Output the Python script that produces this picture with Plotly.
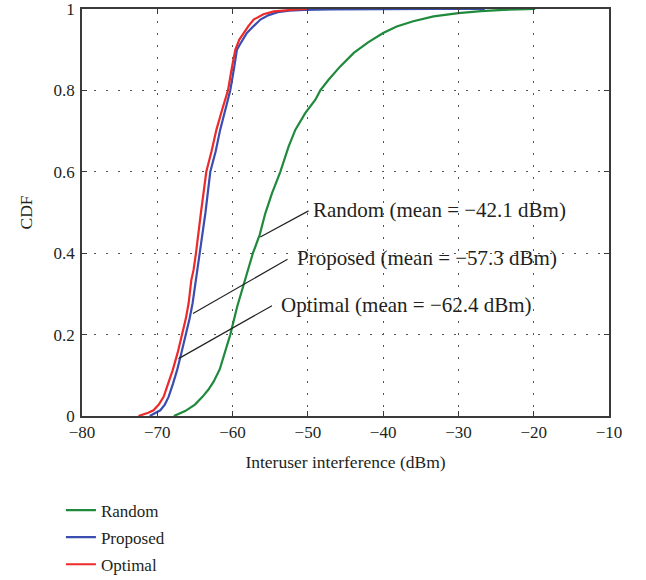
import plotly.graph_objects as go

# ---- data ----
random_x = [-67.8, -66.3, -65.0, -64.0, -63.2, -62.5, -61.7, -61.0, -60.3, -59.4, -58.45, -57.3, -56.4,
            -55.65, -54.77, -53.66, -52.56, -51.67, -50.35, -49.0, -48.35, -47.25, -45.7, -43.9, -42.0,
            -40.0, -38.2, -36.0, -33.3, -30.0, -27.0, -24.0, -19.8]
random_y = [0, 0.012, 0.028, 0.047, 0.065, 0.085, 0.115, 0.155, 0.2, 0.268, 0.326, 0.4, 0.445,
            0.498, 0.547, 0.6, 0.662, 0.703, 0.744, 0.777, 0.8, 0.826, 0.859, 0.892, 0.918,
            0.941, 0.957, 0.97, 0.982, 0.99, 0.995, 0.998, 1.0]

proposed_x = [-71.0, -70.7, -70.2, -69.6, -69.0, -68.5, -67.9, -67.38, -66.8, -66.19, -65.7, -65.31,
              -64.86, -64.65, -64.33, -63.6, -62.96, -62.25, -61.65, -60.95, -60.31, -59.8, -59.42,
              -58.8, -58.1, -57.2, -56.3, -55.2, -54.0, -52.5, -50.5, -47.0, -40.0, -33.0, -26.5]
proposed_y = [0, 0.003, 0.008, 0.014, 0.028, 0.047, 0.08, 0.112, 0.155, 0.2, 0.24, 0.277,
              0.334, 0.359, 0.4, 0.5, 0.6, 0.65, 0.703, 0.755, 0.8, 0.855, 0.9,
              0.92, 0.941, 0.958, 0.974, 0.985, 0.992, 0.996, 0.998, 0.999, 1.0, 1.0, 1.0]

optimal_x = [-72.5, -72.0, -71.2, -70.5, -69.8, -69.16, -68.5, -67.96, -67.3, -66.72, -66.2, -65.84,
             -65.48, -65.18, -64.86, -64.2, -63.49, -62.8, -62.15, -61.35, -60.61, -60.1, -59.64,
             -59.1, -58.54, -57.9, -57.2, -55.9, -54.5, -53.0, -51.5, -50.0]
optimal_y = [0, 0.003, 0.008, 0.014, 0.028, 0.047, 0.08, 0.112, 0.155, 0.2, 0.24, 0.277,
             0.334, 0.359, 0.4, 0.5, 0.6, 0.65, 0.703, 0.755, 0.8, 0.855, 0.90,
             0.925, 0.941, 0.958, 0.974, 0.987, 0.994, 0.997, 0.999, 1.0]

series_names = ["Random", "Proposed", "Optimal"]
series_colors = ["#1f8a3b", "#3b4db0", "#ec2a2a"]

x_ticks = [-80, -70, -60, -50, -40, -30, -20, -10]
y_ticks = [0, 0.2, 0.4, 0.6, 0.8, 1]
y_ticklabels = ["0", "0.2", "0.4", "0.6", "0.8", "1"]

# annotation labels: (curve point, label point, text)
label_texts = ["Random (mean = \u221242.1 dBm)",
               "Proposed (mean = \u221257.3 dBm)",
               "Optimal (mean = \u221262.4 dBm)"]
label_curve_pts = [(-56.32, 0.440), (-65.26, 0.252), (-67.17, 0.141)]
label_line_end = [(-49.91, 0.504), (-52.70, 0.385), (-54.77, 0.271)]
label_text_pos = [(-49.6, 0.505), (-51.75, 0.389), (-53.9, 0.273)]

FONT = "Liberation Serif"
TXT = "#231f20"

fig = go.Figure()
for name, xs, ys, col in zip(series_names, [random_x, proposed_x, optimal_x],
                             [random_y, proposed_y, optimal_y], series_colors):
    fig.add_trace(go.Scatter(x=xs, y=ys, mode="lines", name=name, legendgroup=name,
                             line=dict(color=col, width=2.2)))

for (cx, cy), (ex, ey), (tx, ty), txt in zip(label_curve_pts, label_line_end, label_text_pos, label_texts):
    fig.add_shape(type="line", x0=cx, y0=cy, x1=ex, y1=ey, xref="x", yref="y",
                  line=dict(color="#222222", width=1.2))
    fig.add_annotation(x=tx, y=ty, xref="x", yref="y", text=txt, showarrow=False,
                       xanchor="left", yanchor="middle",
                       font=dict(family=FONT, size=21, color=TXT))

axis_common = dict(showline=True, linecolor="#3a3a3a", linewidth=1.5, mirror="ticks",
                   ticks="inside", ticklen=5, tickcolor="#3a3a3a", tickwidth=1,
                   showgrid=True, gridcolor="#555555", gridwidth=1, griddash="2px,10px",
                   zeroline=False, ticklabeloverflow="allow",
                   tickfont=dict(family=FONT, size=17, color=TXT))

fig.update_xaxes(range=[-80, -10], tickvals=x_ticks,
                 title=dict(text="Interuser interference (dBm)", font=dict(family=FONT, size=17.5, color=TXT),
                            standoff=15),
                 **axis_common)
fig.update_yaxes(range=[0, 1], tickvals=y_ticks, ticktext=y_ticklabels, ticklabelstandoff=2,
                 title=dict(text="CDF", font=dict(family=FONT, size=17.5, color=TXT), standoff=16),
                 **axis_common)

fig.update_layout(
    width=646, height=580,
    margin=dict(l=82, r=37, t=9, b=164, autoexpand=False),
    paper_bgcolor="white", plot_bgcolor="white",
    font=dict(family=FONT, size=17, color=TXT),
    showlegend=True,
    legend=dict(x=-0.04, y=-0.188, xanchor="left", yanchor="top", orientation="v",
                tracegroupgap=2, font=dict(family=FONT, size=17, color=TXT),
                bgcolor="rgba(0,0,0,0)", itemwidth=30),
)

fig.write_html("out.html", config={"displayModeBar": False},
               post_script="document.body.style.margin='0';")
